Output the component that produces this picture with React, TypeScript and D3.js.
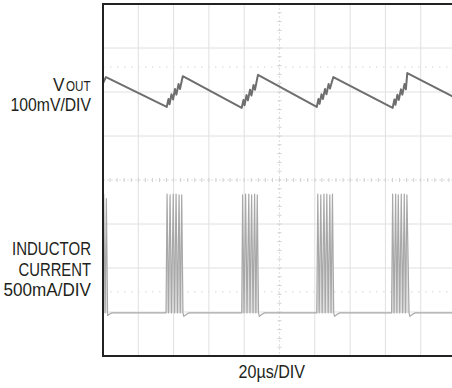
import React from "react";
import * as d3 from "d3";

// ---- Data ----
// Time axis: 10 divisions x 20µs/div
const timeDivs = 10;
const usPerDiv = 20;
const voltDivs = 8;

// Output voltage ripple (AC-coupled, mV relative to screen centre), 100mV/div
const voutTime = [
  0, 1.7, 36.1, 37.1, 37.7, 38.8, 39.7, 40.8, 41.6, 42.8, 43.6, 45.2,
  78.6, 79.6, 80.2, 81.3, 82.1, 83.3, 84.1, 85.3, 86.1, 87.8,
  121.1, 122.1, 122.7, 123.8, 124.6, 125.8, 126.6, 127.8, 128.6, 130.5,
  164.1, 165.1, 165.7, 166.8, 167.6, 168.8, 169.6, 170.8, 171.6, 172.4,
  200,
];
const voutMv = [
  220, 234, 166, 184, 172, 195, 183, 207, 194, 218, 207, 236,
  164, 182, 170, 193, 181, 205, 192, 216, 205, 239,
  166, 184, 173, 195, 184, 207, 195, 218, 208, 234,
  164, 183, 171, 194, 182, 206, 194, 218, 206, 243,
  186,
];

// Inductor current (mA above its trace zero), 500mA/div
const currentTime = [
  0, 0.4, 1.2, 1.9, 2.6, 4, 5,
  35.7, 36.3, 37.1, 38.0, 38.8, 39.8, 40.5, 41.4, 42.2, 43.1, 43.8, 44.6, 45.3, 45.8, 47.3, 48.8,
  78.6, 79.1, 79.9, 80.8, 81.6, 82.6, 83.3, 84.2, 85.0, 85.9, 86.6, 87.4, 88.1, 88.6, 90.1, 91.6,
  121.1, 121.7, 122.5, 123.4, 124.2, 125.2, 125.9, 126.8, 127.6, 128.5, 129.2, 130.0, 130.7, 131.2, 132.7, 134.2,
  163.5, 164.1, 164.9, 165.8, 166.5, 167.3, 168.1, 169.0, 169.8, 170.7, 171.4, 172.2, 173.4, 173.9, 175.4, 176.9,
  200,
];
const currentMa = [
  900, 1350, 0, 1300, -30, -10, 0,
  0, 1350, 0, 1340, 0, 1350, 0, 1350, 0, 1340, 0, 1340, 0, -40, -15, 0,
  0, 1340, 0, 1350, 0, 1350, 0, 1340, 0, 1350, 0, 1340, 0, -40, -15, 0,
  0, 1350, 0, 1340, 0, 1350, 0, 1350, 0, 1340, 0, 1350, 0, -40, -15, 0,
  0, 1350, 0, 1350, 0, 1340, 0, 1350, 0, 1350, 0, 1340, 0, -40, -15, 0,
  0,
];

// Faint trace reference markers (divisions from centre)
const markerLevels = [2.57, -2.54];

const voutLabel = ["V", "OUT", "100mV/DIV"];
const currentLabel = ["INDUCTOR", "CURRENT", "500mA/DIV"];
const timeLabel = "20µs/DIV";

// ---- Layout ----
const W = 452;
const H = 388;
const plot = { left: 103, top: 4, width: 353, height: 352 };
const currentZeroDiv = -3.02;
const FONT = "'Liberation Sans', Arial, sans-serif";
const labelRight = 91;
const currentLabelWidths = [79, 72.5, 87.5];

export default function App() {
  const x = d3
    .scaleLinear()
    .domain([0, timeDivs * usPerDiv])
    .range([plot.left, plot.left + plot.width]);
  const yDiv = d3
    .scaleLinear()
    .domain([-voltDivs / 2, voltDivs / 2])
    .range([plot.top + plot.height, plot.top]);
  const yV = (mv: number) => yDiv(mv / 100);
  const yI = (ma: number) => yDiv(currentZeroDiv + ma / 500);

  const voutData = voutTime.map((t, i) => [t, voutMv[i]] as [number, number]);
  const curData = currentTime.map((t, i) => [t, currentMa[i]] as [number, number]);

  const voutLine = d3
    .line<[number, number]>()
    .x((d) => x(d[0]))
    .y((d) => yV(d[1]));
  const curLine = d3
    .line<[number, number]>()
    .x((d) => x(d[0]))
    .y((d) => yI(d[1]));
  const curArea = d3
    .area<[number, number]>()
    .x((d) => x(d[0]))
    .y0(yI(0))
    .y1((d) => yI(Math.max(0, d[1])));

  const xGrid = d3.range(1, timeDivs).map((i) => i * usPerDiv);
  const yGrid = d3.range(-voltDivs / 2 + 1, voltDivs / 2);
  const xMinor = d3.range(0, timeDivs * 5 + 1).map((i) => (i * usPerDiv) / 5);
  const yMinor = d3.range(0, voltDivs * 5 + 1).map((i) => -voltDivs / 2 + i / 5);
  const cx = x((timeDivs * usPerDiv) / 2);
  const cy = yDiv(0);
  const txt = "#231f20";

  return (
    <svg
      width={W}
      height={H}
      style={{ position: "absolute", left: 0, top: 0, background: "#fff" }}
      fontFamily={FONT}
    >
      <defs>
        <clipPath id="plotClip">
          <rect x={plot.left} y={plot.top} width={plot.width} height={plot.height} />
        </clipPath>
      </defs>
      <g clipPath="url(#plotClip)">
        {xGrid.map((t) => (
          <line
            key={"xg" + t}
            x1={x(t)}
            x2={x(t)}
            y1={plot.top}
            y2={plot.top + plot.height}
            stroke="#e0e0e0"
            strokeWidth={1}
            strokeDasharray={t === (timeDivs * usPerDiv) / 2 ? "2,2" : undefined}
          />
        ))}
        {yGrid.map((v) => (
          <line
            key={"yg" + v}
            x1={plot.left}
            x2={plot.left + plot.width}
            y1={yDiv(v)}
            y2={yDiv(v)}
            stroke="#e0e0e0"
            strokeWidth={1}
            strokeDasharray={v === 0 ? "2,2" : undefined}
          />
        ))}
        {xMinor.map((t) => (
          <line key={"xm" + t} x1={x(t)} x2={x(t)} y1={cy - 2} y2={cy + 2} stroke="#d0d0d0" strokeWidth={1} />
        ))}
        {yMinor.map((v) => (
          <line key={"ym" + v} x1={cx - 2} x2={cx + 2} y1={yDiv(v)} y2={yDiv(v)} stroke="#d0d0d0" strokeWidth={1} />
        ))}
        {markerLevels.map((v) => (
          <line
            key={"mk" + v}
            x1={plot.left}
            x2={plot.left + plot.width}
            y1={yDiv(v)}
            y2={yDiv(v)}
            stroke="#e4e4e4"
            strokeWidth={1.5}
            strokeDasharray="1.5,5.5"
          />
        ))}
        <path d={curArea(curData) || ""} fill="#e0e0e0" stroke="none" />
        <path d={curLine(curData) || ""} fill="none" stroke="#a8a8a8" strokeWidth={1.2} strokeLinejoin="round" />
        <path d={voutLine(voutData) || ""} fill="none" stroke="#6e6e6e" strokeWidth={2} strokeLinejoin="round" />
      </g>
      <rect
        x={plot.left}
        y={plot.top}
        width={plot.width}
        height={plot.height}
        fill="none"
        stroke="#222"
        strokeWidth={2}
      />
      <text x={53} y={90.5} fontSize={18.5} fill={txt} textLength={11.5} lengthAdjust="spacingAndGlyphs">
        {voutLabel[0]}
      </text>
      <text x={66} y={91} fontSize={14} fill={txt} textLength={24.5} lengthAdjust="spacingAndGlyphs">
        {voutLabel[1]}
      </text>
      <text
        x={labelRight - 80.5}
        y={110.5}
        fontSize={17.5}
        fill={txt}
        textLength={80.5}
        lengthAdjust="spacingAndGlyphs"
      >
        {voutLabel[2]}
      </text>
      {currentLabel.map((s, i) => (
        <text
          key={s}
          x={labelRight - currentLabelWidths[i]}
          y={255 + i * 20.5}
          fontSize={18.5}
          fill={txt}
          textLength={currentLabelWidths[i]}
          lengthAdjust="spacingAndGlyphs"
        >
          {s}
        </text>
      ))}
      <text
        x={238.5}
        y={378}
        fontSize={18.5}
        fill={txt}
        textLength={66.5}
        lengthAdjust="spacingAndGlyphs"
      >
        {timeLabel}
      </text>
    </svg>
  );
}
